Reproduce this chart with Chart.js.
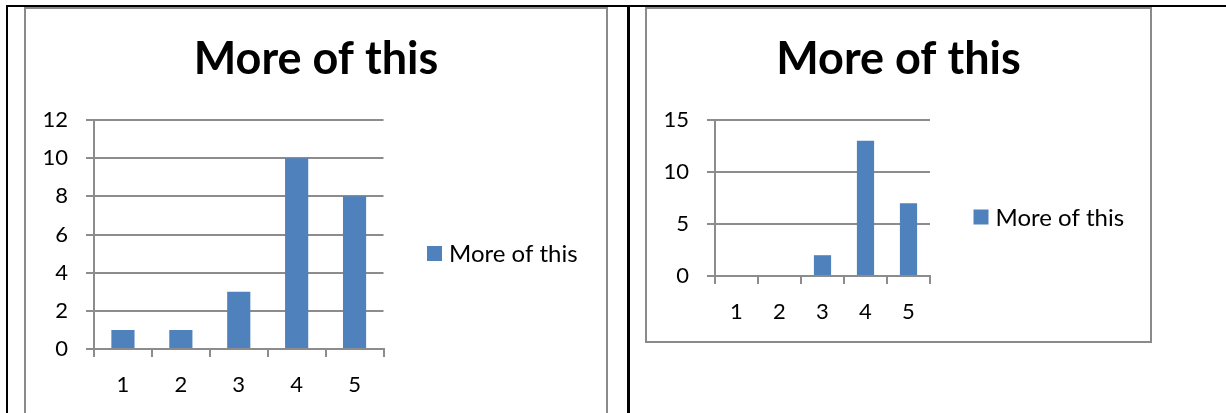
<!DOCTYPE html>
<html>
<head>
<meta charset="utf-8">
<script src="https://cdn.jsdelivr.net/npm/chart.js@4/dist/chart.umd.min.js"></script>
<style>
  html, body { margin: 0; padding: 0; background: #fff; }
  body { width: 1226px; height: 413px; position: relative; overflow: hidden; }
  .rule { position: absolute; background: #000; }
  .frame { position: absolute; border: 2px solid #8a8a8a; box-sizing: border-box; background: #fff; }
  canvas { position: absolute; display: block; }
</style>
</head>
<body>
  <!-- table borders -->
  <div class="rule" style="left:6px; top:5px; width:1220px; height:2px;"></div>
  <div class="rule" style="left:6px; top:5px; width:2px; height:408px;"></div>
  <div class="rule" style="left:627px; top:5px; width:2.5px; height:408px;"></div>

  <!-- chart frames -->
  <div class="frame" style="left:24px; top:7px; width:584px; height:420px;"></div>
  <div class="frame" style="left:645px; top:7px; width:507px; height:336px;"></div>

  <canvas id="chartA" width="580" height="404" style="left:26px; top:9px;"></canvas>
  <canvas id="chartB" width="503" height="332" style="left:647px; top:9px;"></canvas>

<script>
// Category labels shared by both charts
const categories = ['1', '2', '3', '4', '5'];

// First chart
const titleA = 'More of this';
const seriesNameA = 'More of this';
const valuesA = [1, 1, 3, 10, 8];
const yTicksA = [0, 2, 4, 6, 8, 10, 12];

// Second chart
const titleB = 'More of this';
const seriesNameB = 'More of this';
const valuesB = [0, 0, 2, 13, 7];
const yTicksB = [0, 5, 10, 15];

const BAR_BLUE = '#4F81BD';
const GRID_GREY = '#8c8c8c';
const FONT = 'Lato, "Noto Sans", sans-serif';

// Legend drawn to the right of the plot area: a colour swatch and the series name
const sideLegend = {
  id: 'sideLegend',
  afterDraw(chart, args, opts) {
    const { ctx, chartArea } = chart;
    const ds = chart.data.datasets[0];
    const x = chartArea.right + opts.offsetX;
    const yc = (chartArea.top + chartArea.bottom) / 2 + opts.offsetY;
    ctx.save();
    ctx.fillStyle = ds.backgroundColor;
    ctx.fillRect(x, yc - opts.box / 2, opts.box, opts.box);
    ctx.font = opts.fontSize + 'px ' + FONT;
    ctx.fillStyle = '#000';
    ctx.textAlign = 'left';
    ctx.textBaseline = 'middle';
    ctx.fillText(ds.label, x + opts.box + opts.gap, yc + 1);
    ctx.restore();
  }
};

function makeChart(id, title, seriesName, values, yTicks, geom) {
  return new Chart(document.getElementById(id), {
    type: 'bar',
    data: {
      labels: categories,
      datasets: [{
        label: seriesName,
        data: values,
        backgroundColor: BAR_BLUE,
        borderWidth: 0,
        barPercentage: 0.4,
        categoryPercentage: 1.0
      }]
    },
    plugins: [sideLegend],
    options: {
      responsive: false,
      animation: false,
      devicePixelRatio: 1,
      events: [],
      plugins: {
        legend: { display: false },
        tooltip: { enabled: false },
        title: {
          display: true,
          text: title,
          color: '#000',
          font: { family: FONT, size: 45, weight: 'bold', lineHeight: 1.2 },
          padding: { top: 23, bottom: 111 - 23 - 54 }
        },
        sideLegend: { offsetX: 43.5, offsetY: 19, box: 15, gap: 7, fontSize: 24 }
      },
      scales: {
        x: {
          offset: true,
          grid: {
            offset: true,
            drawOnChartArea: false,
            drawTicks: true,
            tickLength: 8,
            color: GRID_GREY,
            lineWidth: 2
          },
          border: { display: true, color: GRID_GREY, width: 2 },
          ticks: { color: '#000', font: { family: FONT, size: 22 }, padding: 15 },
          afterFit: (s) => { s.height = geom.xHeight; }
        },
        y: {
          min: yTicks[0],
          max: yTicks[yTicks.length - 1],
          afterBuildTicks: (axis) => { axis.ticks = yTicks.map(v => ({ value: v })); },
          grid: {
            drawTicks: true,
            tickLength: 8,
            color: GRID_GREY,
            lineWidth: 2
          },
          border: { display: true, color: GRID_GREY, width: 2 },
          ticks: { color: '#000', font: { family: FONT, size: 22 }, padding: 18 },
          afterFit: (s) => { s.width = 68; }
        },
        // empty right-hand axis that reserves room for the legend beside the plot
        legendSpace: {
          type: 'linear',
          position: 'right',
          display: true,
          grid: { display: false, drawTicks: false },
          border: { display: false },
          ticks: { display: false },
          afterFit: (s) => { s.width = geom.padRight; }
        }
      }
    }
  });
}

makeChart('chartA', titleA, seriesNameA, valuesA, yTicksA, { padRight: 222.5, xHeight: 64 });
makeChart('chartB', titleB, seriesNameB, valuesB, yTicksB, { padRight: 220, xHeight: 65 });
</script>
</body>
</html>
